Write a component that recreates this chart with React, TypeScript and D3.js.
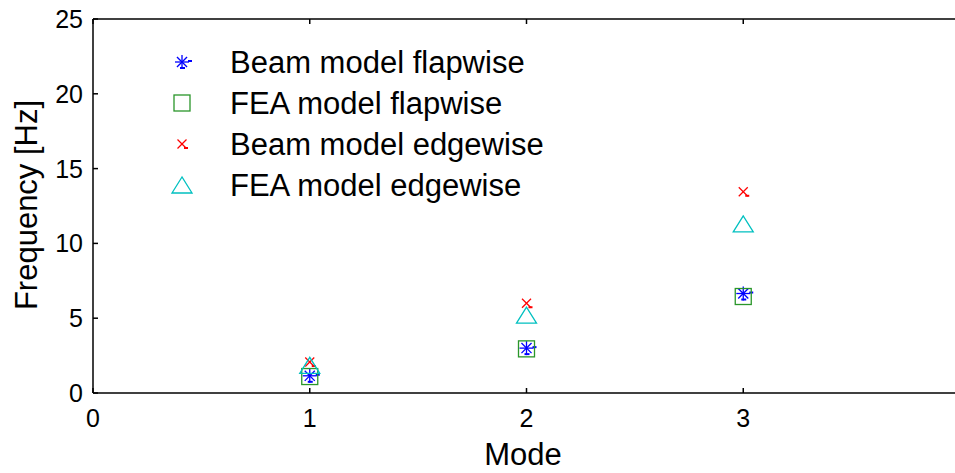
import React from "react";
import * as d3 from "d3";

const modes = [1, 2, 3];
const beamFlap = [1.15, 3.0, 6.65];
const feaFlap = [1.1, 2.95, 6.45];
const beamEdge = [2.07, 6.0, 13.45];
const feaEdge = [1.85, 5.2, 11.3];
const xTicks = [0, 1, 2, 3];
const yTicks = [0, 5, 10, 15, 20, 25];
const legendLabels = [
  "Beam model flapwise",
  "FEA model flapwise",
  "Beam model edgewise",
  "FEA model edgewise",
];

const W = 955;
const H = 473;
const left = 93;
const right = 960;
const top = 19;
const bottom = 393;

const BLUE = "#0000ff";
const GREEN = "#2a962a";
const RED = "#ff0000";
const CYAN = "#00c0c0";
const FONT = "'Liberation Sans', Arial, sans-serif";

function Star({ x, y }: { x: number; y: number }) {
  const r = 7;
  const d = r * 0.72;
  return (
    <g stroke={BLUE} strokeWidth={1.3} fill="none">
      <line x1={x - r} y1={y} x2={x + r} y2={y} />
      <line x1={x} y1={y - r} x2={x} y2={y + r} />
      <line x1={x - d} y1={y - d} x2={x + d} y2={y + d} />
      <line x1={x - d} y1={y + d} x2={x + d} y2={y - d} />
      <line x1={x + 6} y1={y - 1} x2={x + 10} y2={y - 1} strokeWidth={2} />
      <line x1={x - 2} y1={y + 6} x2={x + 3} y2={y + 6} strokeWidth={2} />
    </g>
  );
}

function Square({ x, y }: { x: number; y: number }) {
  const s = 8;
  return (
    <rect x={x - s} y={y - s} width={2 * s} height={2 * s} fill="none" stroke={GREEN} strokeWidth={1.3} />
  );
}

function Cross({ x, y }: { x: number; y: number }) {
  const r = 4.5;
  return (
    <g stroke={RED} strokeWidth={1.3}>
      <line x1={x - r} y1={y - r} x2={x + r} y2={y + r} />
      <line x1={x - r} y1={y + r} x2={x + r} y2={y - r} />
      <line x1={x + 2} y1={y + 4} x2={x + 6} y2={y + 4} strokeWidth={2} />
    </g>
  );
}

function Triangle({ x, y }: { x: number; y: number }) {
  const w = 10;
  const h = 8;
  return (
    <polygon
      points={`${x},${y - h} ${x - w},${y + h} ${x + w},${y + h}`}
      fill="none"
      stroke={CYAN}
      strokeWidth={1.3}
    />
  );
}

export default function App() {
  const xs = d3.scaleLinear().domain([0, 4]).range([left, right]);
  const ys = d3.scaleLinear().domain([0, 25]).range([bottom, top]);
  const tick = 5;
  const markers = [Star, Square, Cross, Triangle];
  const series = [beamFlap, feaFlap, beamEdge, feaEdge];

  return (
    <svg
      width={W}
      height={H}
      style={{ position: "absolute", left: 0, top: 0, background: "#fff" }}
      fontFamily={FONT}
    >
      <rect x={0} y={0} width={W} height={H} fill="#fff" />
      <g stroke="#000" strokeWidth={1.5} fill="none">
        <line x1={left} y1={top} x2={right} y2={top} />
        <line x1={left} y1={bottom} x2={right} y2={bottom} />
        <line x1={left} y1={top} x2={left} y2={bottom} />
        {yTicks.map((t) => (
          <line key={"yt" + t} x1={left} x2={left + tick} y1={ys(t)} y2={ys(t)} />
        ))}
        {xTicks.map((t) => (
          <g key={"xt" + t}>
            <line x1={xs(t)} x2={xs(t)} y1={bottom} y2={bottom - tick} />
            <line x1={xs(t)} x2={xs(t)} y1={top} y2={top + tick} />
          </g>
        ))}
      </g>
      {yTicks.map((t) => (
        <text key={"yl" + t} x={left - 10} y={ys(t) + 9} textAnchor="end" fontSize={25}>
          {t}
        </text>
      ))}
      {xTicks.map((t) => (
        <text key={"xl" + t} x={xs(t)} y={bottom + 34} textAnchor="middle" fontSize={25}>
          {t}
        </text>
      ))}
      <text x={523} y={465} textAnchor="middle" fontSize={31}>
        Mode
      </text>
      <text transform={`translate(37,205) rotate(-90)`} textAnchor="middle" fontSize={31}>
        Frequency [Hz]
      </text>
      {series.map((vals, si) => {
        const M = markers[si];
        return (
          <g key={"s" + si}>
            {modes.map((m, i) => (
              <M key={i} x={xs(m)} y={ys(vals[i])} />
            ))}
          </g>
        );
      })}
      {legendLabels.map((lab, i) => {
        const M = markers[i];
        const cy = 62 + i * 41;
        return (
          <g key={"lg" + i}>
            <M x={182} y={cy} />
            <text x={230} y={cy + 11} fontSize={31}>
              {lab}
            </text>
          </g>
        );
      })}
    </svg>
  );
}
